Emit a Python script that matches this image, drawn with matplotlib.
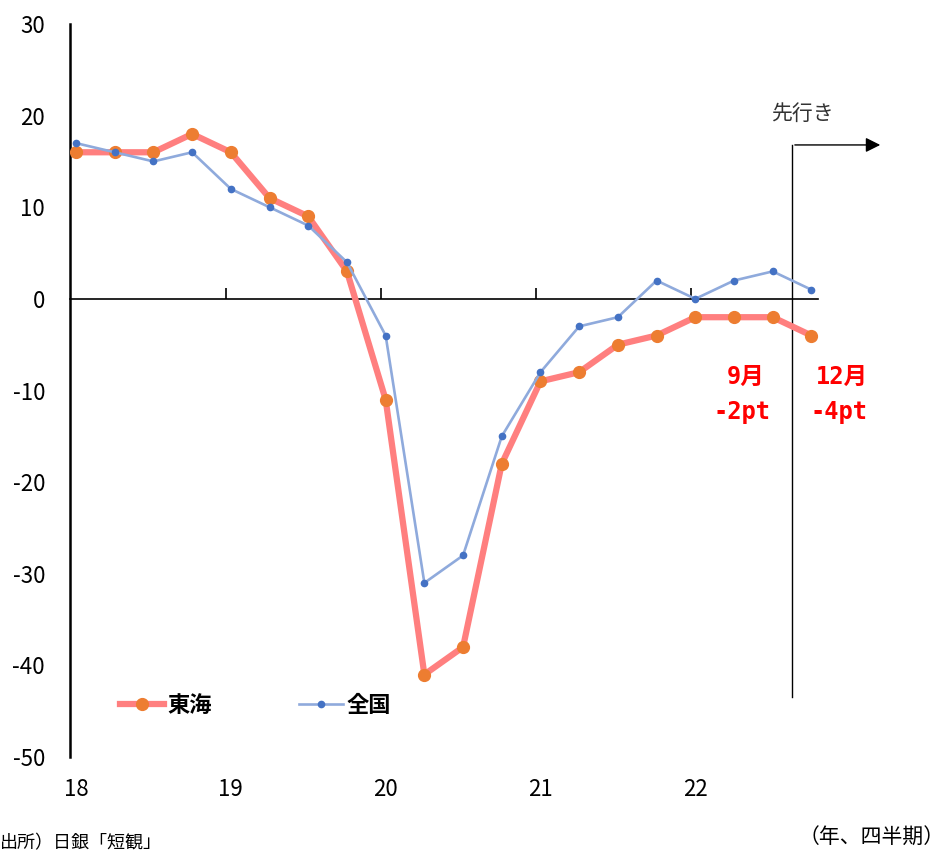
import matplotlib
matplotlib.use('Agg')
import matplotlib.pyplot as plt
import numpy as np

plt.rcParams['font.family'] = ['Noto Sans CJK JP', 'DejaVu Sans']
plt.rcParams['axes.unicode_minus'] = False

# quarterly data, 2018Q1 - 2022Q4
tokai = [16, 16, 16, 18, 16, 11, 9, 3, -11, -41, -38, -18, -9, -8, -5, -4, -2, -2, -2, -4]
zenkoku = [17, 16, 15, 16, 12, 10, 8, 4, -4, -31, -28, -15, -8, -3, -2, 2, 0, 2, 3, 1]
year_labels = ['18', '19', '20', '21', '22']
y_ticks = [30, 20, 10, 0, -10, -20, -30, -40, -50]

x = np.arange(len(tokai))

fig = plt.figure(figsize=(9.5, 8.55), dpi=100)
ax = fig.add_axes([70 / 950, 1 - 757 / 855, 748 / 950, 733 / 855])

ax.plot(x, tokai, color='#FF7F7F', lw=4.5, marker='o', ms=8.5,
        mfc='#ED7D31', mec='#ED7D31', label='東海', zorder=3)
ax.plot(x, zenkoku, color='#8FAADC', lw=1.9, marker='o', ms=4.5,
        mfc='#4472C4', mec='#4472C4', label='全国', zorder=4)

ax.set_xlim(-0.155, 19.17)
ax.set_ylim(-50, 30)
ax.set_yticks(y_ticks)
ax.tick_params(axis='y', length=0, pad=18, labelsize=16)

for s in ['top', 'right']:
    ax.spines[s].set_visible(False)
ax.spines['left'].set_linewidth(1.8)
ax.spines['bottom'].set_position(('data', 0))
ax.spines['bottom'].set_linewidth(1.2)
ax.set_xticks([i * 4 - 0.12 for i in range(1, 5)])
ax.set_xticklabels([])
ax.tick_params(axis='x', direction='in', length=8, width=1.2)

# year labels below the plot
for i, lab in enumerate(year_labels):
    ax.text(i * 4, -53.5, lab, ha='center', va='center', fontsize=16)

# forecast arrow
ax.plot([18.5, 18.5], [-43.5, 16.8], color='black', lw=1, clip_on=False)
ax.annotate('', xy=(20.85, 16.8), xytext=(18.5, 16.8),
            arrowprops=dict(arrowstyle='-|>', color='black', lw=1,
                            mutation_scale=22), annotation_clip=False)
ax.text(17.95, 20.2, '先行き', ha='left', va='center', fontsize=15, color='#333333')

red_font = ['DejaVu Sans Mono', 'Noto Sans CJK JP']
ax.text(17.3, -8.5, '9月', ha='center', va='center', fontsize=17,
        color='red', fontweight='bold', family=red_font)
ax.text(17.2, -12.3, '-2pt', ha='center', va='center', fontsize=17,
        color='red', fontweight='bold', family=red_font)
ax.text(19.8, -8.5, '12月', ha='center', va='center', fontsize=17,
        color='red', fontweight='bold', family=red_font)
ax.text(19.7, -12.3, '-4pt', ha='center', va='center', fontsize=17,
        color='red', fontweight='bold', family=red_font)

ax.legend(loc='center left', bbox_to_anchor=(100 / 950, 1 - 705 / 855),
          bbox_transform=fig.transFigure, ncol=2, frameon=False,
          prop={'weight': 'bold', 'size': 16}, handlelength=2.0,
          handletextpad=0.15, columnspacing=3.9)

fig.text(945 / 950, 1 - 838 / 855, '（年、四半期）', ha='right', va='center', fontsize=15)
fig.text(0, 1 - 843 / 855, '出所）日銀「短観」', ha='left', va='center', fontsize=13)

fig.savefig('out.png', dpi=100)
